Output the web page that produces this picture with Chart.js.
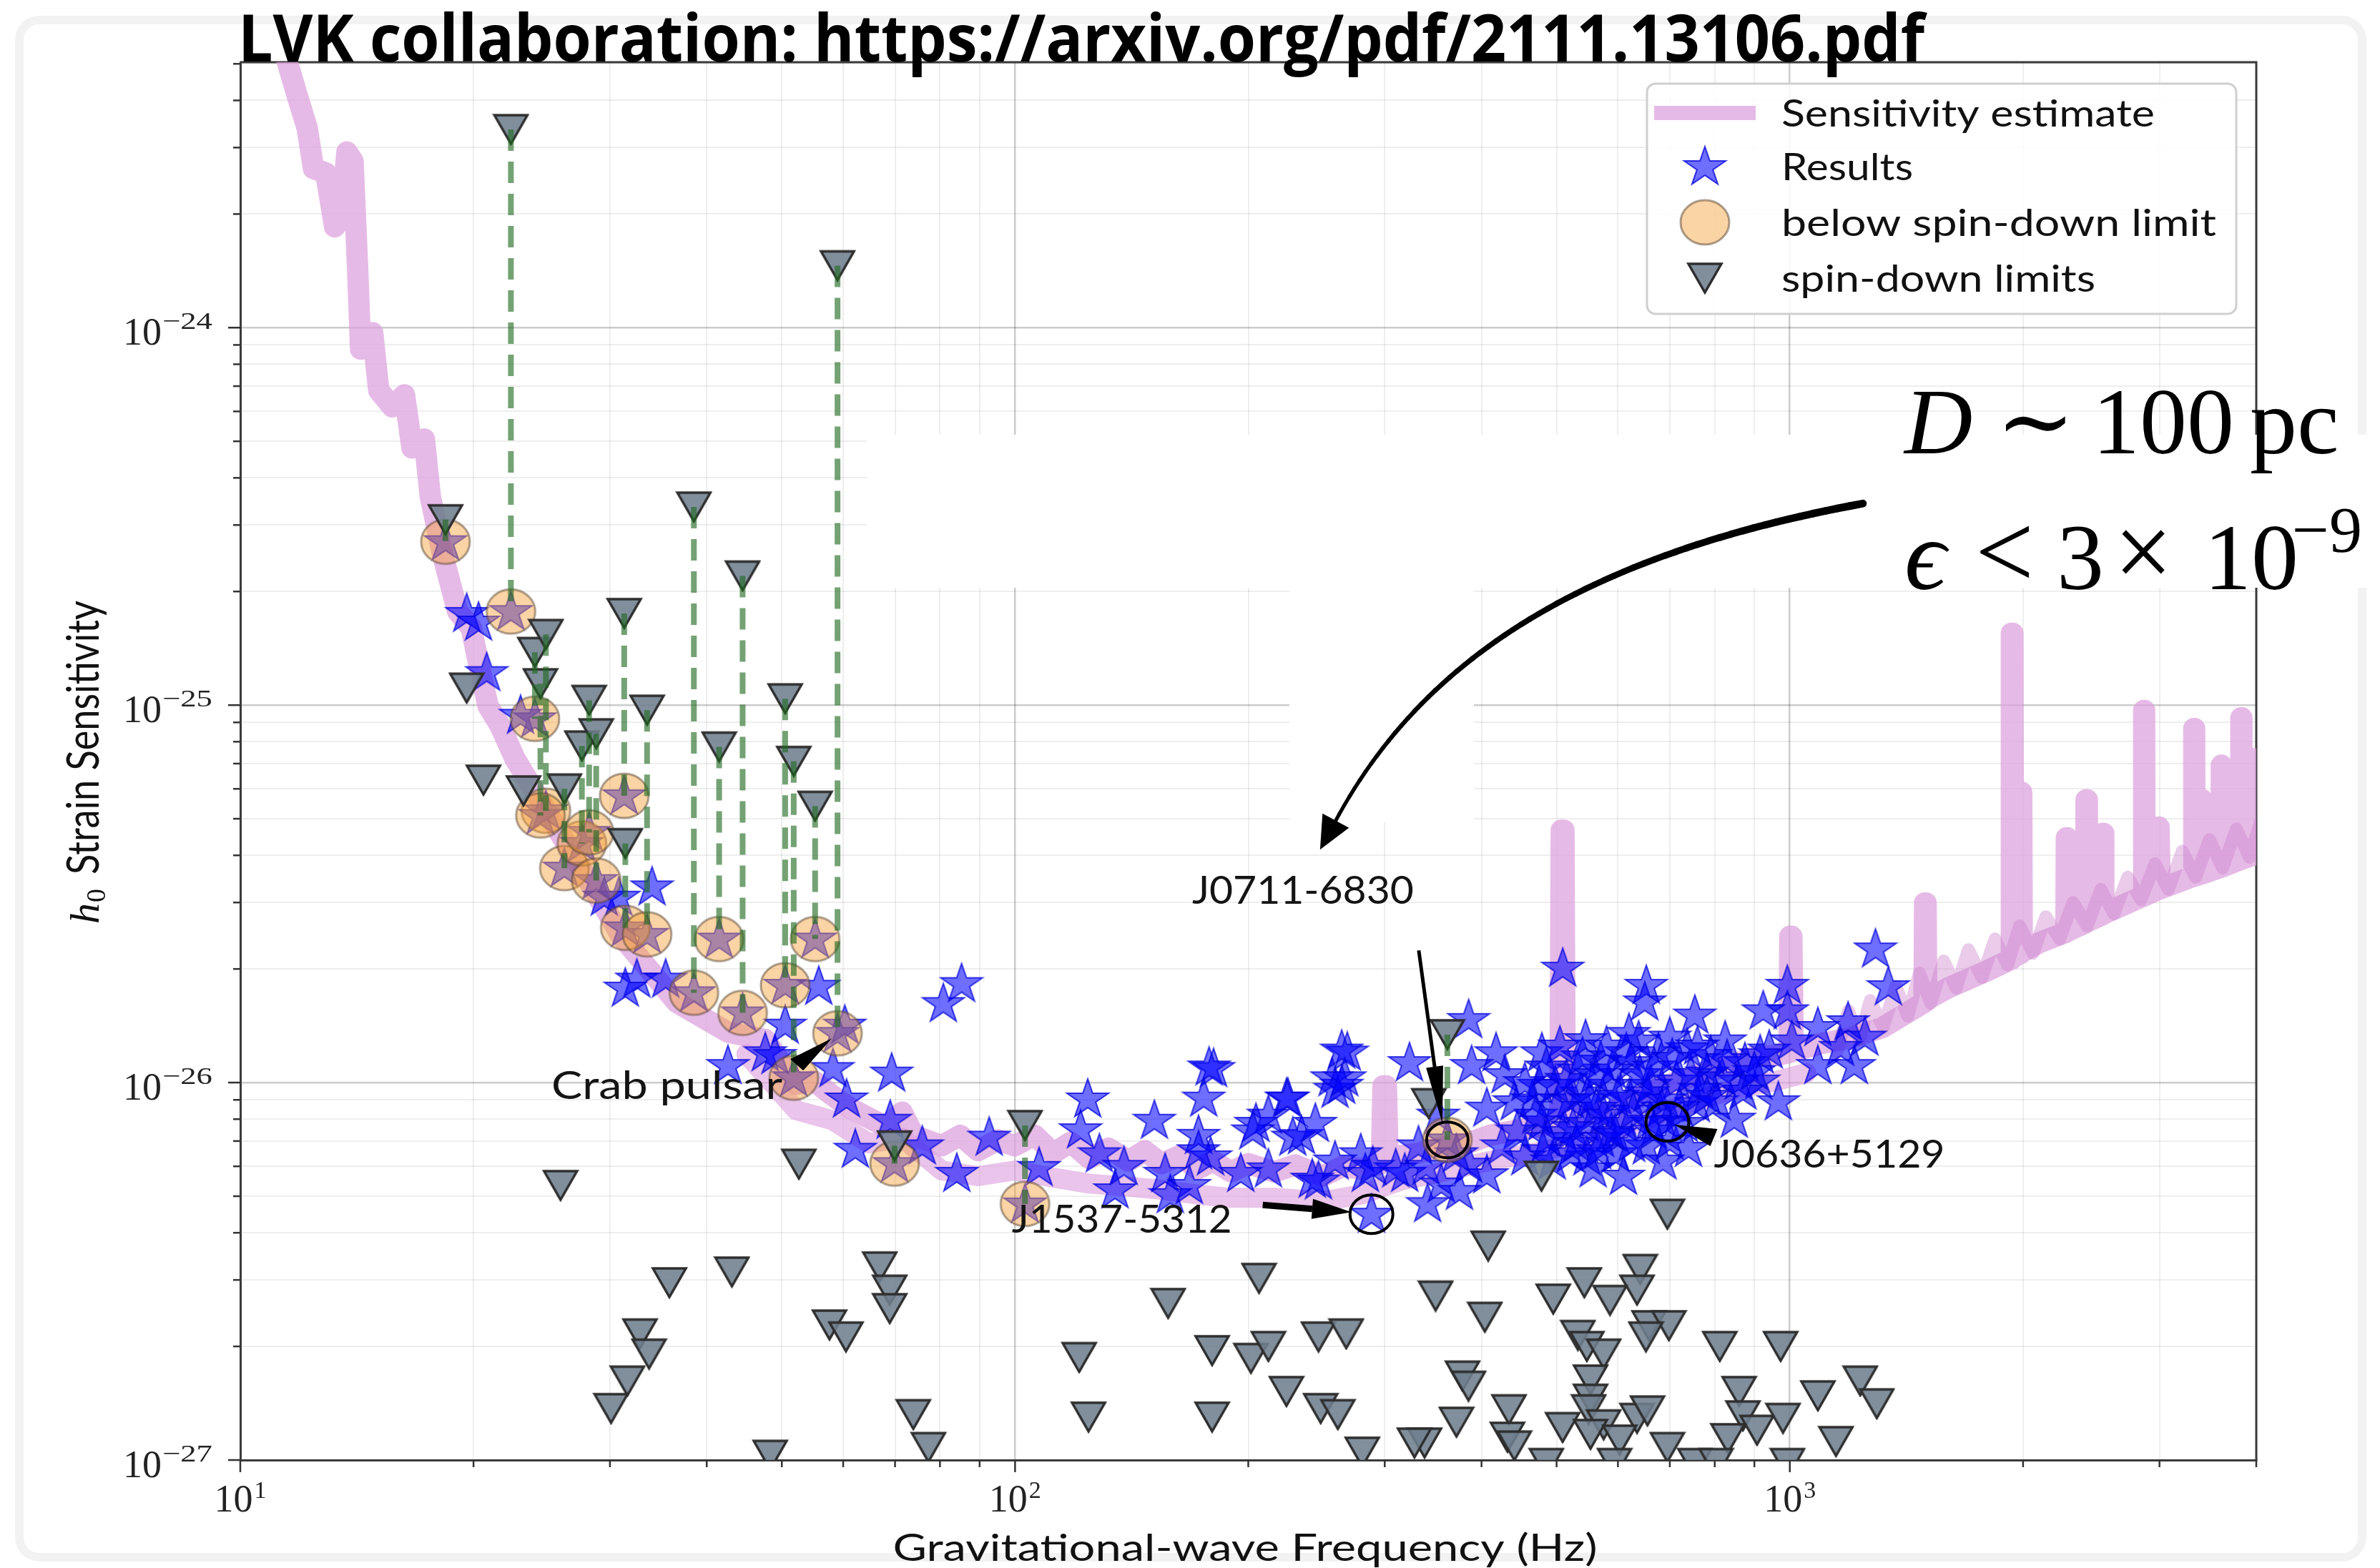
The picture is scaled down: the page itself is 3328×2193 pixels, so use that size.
<!DOCTYPE html>
<html>
<head>
<meta charset="utf-8">
<script src="https://cdn.jsdelivr.net/npm/chart.js@4.4.1/dist/chart.umd.min.js"></script>
<style>
  html, body { margin: 0; padding: 0; background: #fff; overflow: hidden; }
  canvas { display: block; }
</style>
</head>
<body>
<canvas id="chart" width="3328" height="2193"></canvas>
<script>
// ---- data (frequency in Hz, strain amplitude h0) ----

// sensitivity estimate, upper trace
const sensitivityCurve = [
  [11.2,6.0e-24],[11.5,5.06e-24],[11.83,4.15e-24],[12.2,3.38e-24],[12.43,2.64e-24],[12.89,2.57e-24],
  [13.24,1.85e-24],[13.5,1.95e-24],[13.73,2.92e-24],[13.98,2.76e-24],[14.17,1.45e-24],[14.3,8.77e-25],
  [14.82,9.7e-25],[15.09,6.82e-25],[15.71,6.17e-25],[16.29,6.64e-25],[16.66,4.8e-25],[17.28,5.07e-25],
  [17.59,3.57e-25],[18.24,2.51e-25],[19.08,1.77e-25],[19.87,1.6e-25],[20.32,1.28e-25],[20.88,9.96e-26],
  [21.64,8.83e-26],[22.64,7.19e-26],[24.23,5.71e-26],[25.93,4.53e-26],[27.74,3.6e-26],[29.69,2.85e-26],
  [31.0,2.45e-26],[33.0,2.1e-26],[36.6,1.63e-26],[42.6,1.36e-26],[47.6,1.3e-26],[52.2,9.9e-27],
  [55,1.01e-26],[58.1,9.25e-27],[61,8.6e-27],[64.8,8.05e-27],[68,7.65e-27],[71.5,8.35e-27],
  [74,7.25e-27],[80.4,6.8e-27],[85,7.25e-27],[89.6,6.6e-27],[95,7.05e-27],[99.9,6.8e-27],
  [106,7.25e-27],[112,6.5e-27],[118,6.95e-27],[124.6,6.3e-27],[132,6.7e-27],[140,6.2e-27],
  [147,6.6e-27],[154.6,6.1e-27],[163,6.4e-27],[172,5.9e-27],[180,6.2e-27],[190,5.8e-27],
  [200,6.1e-27],[216,5.8e-27],[230,6.05e-27],[249.5,5.65e-27],[265,6.0e-27],[280,5.9e-27],
  [297,6.1e-27],[298.5,9.8e-27],[301.5,9.8e-27],[303,6.2e-27],[315,6.4e-27],[331.6,6.5e-27],
  [350,6.7e-27],[383,6.9e-27],[410,7.25e-27],[440,7.45e-27],[475,7.65e-27],[505,7.85e-27],
  [507,4.66e-26],[511,4.66e-26],[513,8.0e-27],[545,8.2e-27],[585.5,8.35e-27],[630,9.0e-27],
  [676,9.65e-27],[720,1.01e-26],[781,1.07e-26],[840,1.11e-26],[898,1.17e-26],[960,1.18e-26],
  [998,1.2e-26],[1000,2.44e-26],[1006,2.44e-26],[1010,1.21e-26],[1100,1.27e-26],[1194,1.31e-26],
  [1318,1.4e-26],[1490,1.63e-26],[1493,2.99e-26],[1499,2.99e-26],[1502,1.66e-26],[1600,1.78e-26],
  [1800,1.98e-26],[1930,2.12e-26],[1932,1.55e-25],[1940,1.55e-25],[1945,2.15e-26],[1985,2.2e-26],
  [1987,5.87e-26],[1992,5.87e-26],[1995,2.22e-26],[2100,2.35e-26],[2272,2.5e-26],[2275,4.45e-26],
  [2281,4.45e-26],[2284,2.52e-26],[2410,2.65e-26],[2412,5.61e-26],[2418,5.61e-26],[2421,2.67e-26],
  [2530,2.78e-26],[2533,4.57e-26],[2539,4.57e-26],[2542,2.8e-26],[2700,2.96e-26],[2860,3.12e-26],
  [2863,9.68e-26],[2870,9.68e-26],[2873,3.13e-26],[2993,3.25e-26],[2996,4.75e-26],[3002,4.75e-26],
  [3005,3.26e-26],[3320,3.52e-26],[3323,8.67e-26],[3330,8.67e-26],[3333,3.53e-26],[3400,3.57e-26],
  [3403,5.61e-26],[3408,5.61e-26],[3411,3.58e-26],[3604,3.72e-26],[3606,6.93e-26],[3612,6.93e-26],
  [3615,3.73e-26],[3820,3.9e-26],[3822,9.25e-26],[3829,9.25e-26],[3832,3.91e-26],[3962,4.0e-26],
  [3964,7.2e-26],[3970,7.2e-26],[3973,4.01e-26],[4050,4.08e-26]
];

// sensitivity estimate, lower trace across the bucket
const sensitivityLower = [
  [45,1.19e-26],[52.2,8.45e-27],[58.1,7.95e-27],[64.8,6.9e-27],[71.5,7.15e-27],[80.4,5.85e-27],
  [89.6,5.65e-27],[99.9,5.85e-27],[112,5.6e-27],[124.6,5.4e-27],[140,5.3e-27],[154.6,5.2e-27],
  [172,5.05e-27],[190,4.95e-27],[216,4.95e-27],[249.5,4.85e-27],[280,5.05e-27],[315,5.5e-27],
  [350,5.75e-27],[410,6.2e-27],[475,6.55e-27],[545,7.0e-27],[630,7.75e-27],[720,8.65e-27],
  [840,9.55e-27],[960,1.01e-26],[1050,1.06e-26]
];

// harmonic comb above 1 kHz
const sensitivityComb = [
  [1150,1.2e-26],[1190,1.55e-26],[1230,1.3e-26],[1270,1.65e-26],[1320,1.4e-26],[1370,1.8e-26],
  [1420,1.5e-26],[1470,1.95e-26],[1520,1.62e-26],[1580,2.1e-26],[1640,1.78e-26],[1700,2.25e-26],
  [1770,1.9e-26],[1840,2.4e-26],[1910,2.05e-26],[1980,2.6e-26],[2060,2.2e-26],[2140,2.75e-26],
  [2230,2.4e-26],[2320,3.0e-26],[2420,2.6e-26],[2520,3.25e-26],[2620,2.8e-26],[2730,3.5e-26],
  [2840,3.05e-26],[2960,3.8e-26],[3080,3.25e-26],[3210,4.1e-26],[3340,3.5e-26],[3480,4.4e-26],
  [3620,3.7e-26],[3770,4.7e-26],[3920,3.95e-26],[4050,4.9e-26]
];

// pulsars whose upper limit lies below the spin-down limit
const belowFreq  = [18.4, 22.35, 24.0, 24.8, 24.4, 26.2, 27.6, 28.2, 28.8, 31.3, 31.4, 33.5,
                    38.5, 41.5, 44.5, 50.5, 51.8, 55.2, 59.0, 69.9, 103.0, 361.4];
const belowH0    = [2.71e-25, 1.77e-25, 9.2e-26, 5.25e-26, 5.1e-26, 3.7e-26, 4.3e-26, 4.6e-26,
                    3.43e-26, 5.75e-26, 2.57e-26, 2.47e-26, 1.73e-26, 2.4e-26, 1.53e-26, 1.81e-26,
                    1.03e-26, 2.4e-26, 1.35e-26, 6.1e-27, 4.77e-27, 7.05e-27];
const belowLimit = [3.1e-25, 3.35e-24, 1.38e-25, 1.54e-25, 1.14e-25, 6.0e-26, 7.8e-26, 1.03e-25,
                    8.4e-26, 1.75e-25, 4.3e-26, 9.7e-26, 3.35e-25, 7.75e-26, 2.2e-25, 1.04e-25,
                    7.1e-26, 5.4e-26, 1.46e-24, 6.8e-27, 7.7e-27, 1.34e-26];

// remaining upper limits
const resultPoints = [
  [19.6,1.75e-25],[20.3,1.66e-25],[20.8,1.22e-25],[23.0,9.4e-26],
  [29.5,3.1e-26],[30.8,3.1e-26],[34.0,3.3e-26],[32.5,1.88e-26],[31.4,1.78e-26],[35.4,1.88e-26],
  [42.6,1.11e-26],[47.6,1.2e-26],[49.0,1.18e-26],[50.5,1.42e-26],[55.8,1.8e-26],[60.3,1.42e-26],
  [58.2,1.09e-26],[60.6,9.05e-27],[62.2,6.66e-27],[69.0,7.95e-27],[69.3,1.06e-26],[75.9,6.8e-27],
  [80.8,1.62e-26],[85.3,1.83e-26],[84.1,5.75e-27],[92.6,7.17e-27],[107.4,5.96e-27],[124.1,9.05e-27],
  [121.5,7.5e-27],[128.5,6.48e-27],[151.3,7.95e-27],[134.6,5.2e-27],[156.2,5.75e-27],[158.6,5.05e-27],
  [138.2,6.0e-27],[180.4,1.09e-26],[175.2,9.1e-27],[172.5,7.25e-27],[178.8,6.36e-27],[167.9,5.34e-27],
  [204.6,7.8e-27],[212.3,8.2e-27],[224.1,9.1e-27],[228.3,7.17e-27],[234.3,7.24e-27],[212.3,5.91e-27],
  [195.6,5.75e-27],[268.4,1.205e-26],[264.0,9.84e-27],[256.5,1.03e-26],[246.4,5.49e-27],[283.2,5.75e-27],
  [322.9,1.13e-26],[318.4,5.75e-27],[340.8,4.78e-27],[288.4,4.48e-27],
  [385,1.47e-26],[417.7,1.2e-26],[478.6,1.2e-26],[509.2,2.01e-26],[428.9,1.05e-26],[388.4,1.11e-26],
  [406.4,8.56e-27],[440.8,8.9e-27],[474.4,9.84e-27],[478.6,7.87e-27],[509.2,7.38e-27],[537.5,9.39e-27],
  [570,1.14e-26],[562.4,8.56e-27],[588.3,7.38e-27],[547.3,6.36e-27],[454.9,6.36e-27],[406.4,5.7e-27],
  [385,6.08e-27],[493.5,6.2e-27],[621.1,9.1e-27],[652.7,1.81e-26],[649.8,1.636e-26],[652.7,6.8e-27],
  [686,6.2e-27],[638.1,1.29e-26],[676.6,1.2e-26],[754,1.51e-26],[737.3,1.23e-26],[781.8,1.06e-26],
  [825.1,1.29e-26],[858.3,1.01e-26],[847.8,8.0e-27],[757.3,8.8e-27],[923.9,1.55e-26],[911.5,1.01e-26],
  [966.5,8.9e-27],[992.6,1.81e-26],[992.6,1.55e-26],[1087,1.4e-26],[1087,1.11e-26],[1189,1.45e-26],
  [1211,1.11e-26],[1250,1.32e-26],[1290,2.26e-26],[1340,1.795e-26],[940.6,1.22e-26],[1006,1.29e-26],
  [1163,1.24e-26],[695,7.87e-27],
  [520.9,9.0e-27],[544.9,7.8e-27],[570,7.11e-27],[596.4,6.48e-27],[609.9,7.8e-27],[583,9.84e-27],
  [532.7,1.08e-26],[498,9.84e-27],[465.3,9.0e-27],[444.7,7.45e-27],[425.1,6.8e-27],[623.9,1.13e-26],
  [661.5,9.84e-27],[683,8.56e-27],[714.3,1.01e-26],[557.3,5.91e-27],[520.9,6.48e-27],[486.7,7.11e-27],
  [609.9,5.65e-27],[730.6,7.8e-27],[781.8,9.2e-27],[817.5,1.03e-26],[875.1,1.13e-26],[915.5,1.185e-26],
  [667.5,7.45e-27],[354.9,5.39e-27],[371.3,6.48e-27],[331.7,6.8e-27],[310,5.91e-27],[351.7,8.2e-27],
  [374.6,5.15e-27],[172.5,6.6e-27],[178,1.1e-26],[202.7,7.45e-27],[225,9.1e-27],[244.1,7.8e-27],
  [258.8,9.6e-27],[264,1.22e-26],[266.4,1.03e-26],[279.4,6.48e-27],[339.3,6.0e-27],[241.9,5.55e-27],
  [289.6,6.0e-27],[258.8,6.2e-27],
  [455,1.0e-26],[470,8.2e-27],[485,1.1e-26],[500,8.6e-27],[515,1.02e-26],[525,7.6e-27],
  [540,1.17e-26],[552,9.0e-27],[560,1.05e-26],[575,8.2e-27],[590,1.08e-26],[600,9.2e-27],
  [615,1.2e-26],[628,8.4e-27],[640,1.05e-26],[655,9.4e-27],[668,1.1e-26],[690,9.0e-27],
  [705,1.16e-26],[720,8.6e-27],[745,1.05e-26],[765,9.6e-27],[790,1.18e-26],[805,8.9e-27],
  [530,6.9e-27],[565,6.6e-27],[595,7.3e-27],[625,6.9e-27],[660,7.9e-27],[700,7.0e-27],
  [740,6.7e-27],[480,6.6e-27],[505,1.25e-26],[545,1.3e-26],[580,1.25e-26],[620,1.35e-26],
  [700,1.32e-26],[760,1.25e-26],[830,1.15e-26],[870,9.5e-27],[900,1.07e-26]
];

// remaining spin-down limits
const limitPoints = [
  [19.6,1.11e-25],[20.6,6.33e-26],[23.2,5.93e-26],[25.9,5.34e-27],[52.6,6.08e-27],[342,8.8e-27],
  [478,5.65e-27],[695,4.48e-27],[408,3.69e-27],[43.1,3.15e-27],[35.8,2.95e-27],[66.9,3.25e-27],
  [68.9,2.82e-27],[68.9,2.52e-27],[206.5,3.03e-27],[641,3.2e-27],[635,2.82e-27],[543,2.95e-27],
  [349,2.72e-27],[495,2.67e-27],[586,2.65e-27],[157.6,2.6e-27],[404,2.39e-27],[32.8,2.16e-27],
  [33.7,1.91e-27],[31.6,1.62e-27],[30.1,1.37e-27],[57.6,2.28e-27],[60.5,2.12e-27],[121,1.87e-27],
  [179.6,1.95e-27],[201.6,1.86e-27],[212.3,2.0e-27],[246.4,2.12e-27],[267.6,2.16e-27],[532.7,2.14e-27],
  [547,2.0e-27],[575,1.91e-27],[658,2.27e-27],[698,2.27e-27],[652,2.12e-27],[812,2.0e-27],
  [973,2.0e-27],[378,1.67e-27],[384.8,1.57e-27],[553,1.63e-27],[553,1.45e-27],[860,1.52e-27],
  [1233,1.62e-27],[1087,1.48e-27],[1295,1.41e-27],[224,1.52e-27],[248,1.37e-27],[261,1.32e-27],
  [73.9,1.32e-27],[124.4,1.3e-27],[179.6,1.3e-27],[371.3,1.26e-27],[434,1.36e-27],[432,1.15e-27],
  [441,1.09e-27],[509,1.22e-27],[550,1.36e-27],[575,1.24e-27],[635,1.29e-27],[655,1.35e-27],
  [553,1.17e-27],[603,1.13e-27],[870,1.31e-27],[832,1.14e-27],[907,1.2e-27],[980,1.29e-27],
  [1147,1.12e-27],[695,1.08e-27],[77.3,1.08e-27],[337.7,1.11e-27],[327.7,1.11e-27],[280.6,1.05e-27],
  [48.3,1.03e-27],[754,0.98e-27],[803,0.98e-27],[485,0.98e-27],[993,0.98e-27],[594,0.98e-27]
];

// named pulsars
const labelNames = ['Crab pulsar', 'J1537-5312', 'J0711-6830', 'J0636+5129'];
const labelFreq  = [59.0, 288.4, 361.4, 695];
const labelH0    = [1.35e-26, 4.48e-27, 7.05e-27, 7.87e-27];

// axes
const xMajorTicks = [10, 100, 1000];
const xTickExps   = ['1', '2', '3'];
const yMajorTicks = [1e-27, 1e-26, 1e-25, 1e-24];
const yTickExps   = ['\u221227', '\u221226', '\u221225', '\u221224'];
const xTitle = 'Gravitational-wave Frequency (Hz)';
const yTitle = 'Strain Sensitivity';
const pageTitle = 'LVK collaboration: https://arxiv.org/pdf/2111.13106.pdf';
const legendLabels = ['Sensitivity estimate', 'Results', 'below spin-down limit', 'spin-down limits'];

// ---- styles ----
const SENS_COLOR = 'rgba(221,160,221,0.73)';
const LOWER_COLOR = 'rgba(221,160,221,0.62)';
const COMB_COLOR = 'rgba(205,130,205,0.42)';
const LINK_COLOR = 'rgba(30,105,30,0.62)';
const SANS = 'Lato, "DejaVu Sans", sans-serif';
const SERIF = '"Liberation Serif", "DejaVu Serif", serif';

function markerCanvas(w, h, draw) {
  const c = document.createElement('canvas');
  c.width = w; c.height = h;
  draw(c.getContext('2d'), w, h);
  return c;
}

const starImg = markerCanvas(64, 62, (g, w) => {
  const R = 29, r = R * 0.382, cx = w / 2, cy = 32;
  g.beginPath();
  for (let i = 0; i < 10; i++) {
    const a = -Math.PI / 2 + i * Math.PI / 5;
    const rr = i % 2 ? r : R;
    const x = cx + Math.cos(a) * rr * 1.06, y = cy + Math.sin(a) * rr;
    if (i) g.lineTo(x, y); else g.moveTo(x, y);
  }
  g.closePath();
  g.fillStyle = 'rgba(0,0,255,0.57)';
  g.fill();
  g.lineWidth = 2;
  g.strokeStyle = 'rgba(0,0,220,0.75)';
  g.stroke();
});

const circleImg = markerCanvas(74, 68, (g, w, h) => {
  g.beginPath();
  g.ellipse(w / 2, h / 2, 34, 31, 0, 0, Math.PI * 2);
  g.fillStyle = 'rgba(245,160,55,0.45)';
  g.fill();
  g.lineWidth = 3;
  g.strokeStyle = 'rgba(90,70,50,0.5)';
  g.stroke();
});

const triImg = markerCanvas(52, 46, (g) => {
  g.beginPath();
  g.moveTo(3, 3); g.lineTo(49, 3); g.lineTo(26, 43); g.closePath();
  g.fillStyle = 'rgba(112,128,144,0.88)';
  g.fill();
  g.lineWidth = 3.5;
  g.lineJoin = 'miter';
  g.strokeStyle = '#2e2e2e';
  g.stroke();
});

// ---- helpers ----
function fitText(ctx, text, x, y, width, align) {
  const w = ctx.measureText(text).width;
  ctx.save();
  ctx.translate(x, y);
  ctx.scale(width / w, 1);
  ctx.textAlign = 'left';
  ctx.fillText(text, align === 'right' ? -w : align === 'center' ? -w / 2 : 0, 0);
  ctx.restore();
}

function roundRectPath(ctx, x, y, w, h, r) {
  ctx.beginPath();
  ctx.moveTo(x + r, y);
  ctx.arcTo(x + w, y, x + w, y + h, r);
  ctx.arcTo(x + w, y + h, x, y + h, r);
  ctx.arcTo(x, y + h, x, y, r);
  ctx.arcTo(x, y, x + w, y, r);
  ctx.closePath();
}

function straightArrow(ctx, x0, y0, x1, y1, w, hl, hw) {
  const dx = x1 - x0, dy = y1 - y0, L = Math.hypot(dx, dy), ux = dx / L, uy = dy / L;
  const bx = x1 - ux * hl, by = y1 - uy * hl;
  ctx.lineWidth = w;
  ctx.lineCap = 'butt';
  ctx.beginPath(); ctx.moveTo(x0, y0); ctx.lineTo(bx, by); ctx.stroke();
  ctx.beginPath();
  ctx.moveTo(x1, y1);
  ctx.lineTo(bx - uy * hw, by + ux * hw);
  ctx.lineTo(bx + uy * hw, by - ux * hw);
  ctx.closePath();
  ctx.fill();
}

function polygon(ctx, pts) {
  ctx.beginPath();
  pts.forEach((p, i) => (i ? ctx.lineTo(p[0], p[1]) : ctx.moveTo(p[0], p[1])));
  ctx.closePath();
  ctx.fill();
}

function logTicks(min, max, lo, hi) {
  const out = [];
  for (let n = lo; n <= hi; n++) {
    for (let k = 1; k <= 9; k++) {
      const v = Number(k + 'e' + n);
      if (v >= min * 0.999999 && v <= max * 1.000001) out.push({ value: v, major: k === 1 });
    }
  }
  return out;
}

// ---- overlay drawing (axes decoration, legend, annotations) ----
const overlay = {
  id: 'overlay',
  beforeDraw(chart) {
    const c = chart.ctx;
    c.save();
    c.fillStyle = '#fff';
    c.fillRect(0, 0, chart.width, chart.height);
    c.strokeStyle = 'rgba(0,0,0,0.05)';
    c.lineWidth = 12;
    roundRectPath(c, 27, 28, 3276, 2150, 28);
    c.stroke();
    c.restore();
  },
  beforeDatasetsDraw(chart) {
    const c = chart.ctx, a = chart.chartArea;
    c.save();
    c.strokeStyle = '#3a3a3a';
    c.lineWidth = 3;
    c.beginPath();
    c.moveTo(a.left, a.top); c.lineTo(a.right, a.top); c.lineTo(a.right, a.bottom);
    c.stroke();
    // white text panels laid over the plot
    c.fillStyle = '#fff';
    c.fillRect(1212, 608, chart.width - 1212, 214);
    c.fillRect(1803, 820, 258, 330);
    c.restore();
  },
  afterDatasetsDraw(chart) {
    const c = chart.ctx, xs = chart.scales.x, ys = chart.scales.y;
    const P = labelFreq.map((f, i) => [xs.getPixelForValue(f), ys.getPixelForValue(labelH0[i])]);
    c.save();
    c.fillStyle = '#000';
    c.strokeStyle = '#000';

    // rings around highlighted pulsars
    c.lineWidth = 4;
    [[1, 30, 27], [2, 29, 25], [3, 30, 27]].forEach(([i, rx, ry]) => {
      c.beginPath();
      c.ellipse(P[i][0], P[i][1], rx, ry, 0, 0, Math.PI * 2);
      c.stroke();
    });

    // Crab pulsar
    let [x, y] = P[0];
    polygon(c, [[x - 8, y + 7], [x - 66, y + 36], [x - 48, y + 52]]);
    // J1537-5312
    [x, y] = P[1];
    straightArrow(c, x - 152, y - 13, x - 28, y - 3, 9, 55, 14);
    // J0711-6830
    [x, y] = P[2];
    straightArrow(c, x - 40, y - 265, x - 7, y - 23, 5, 80, 12);
    // curved arrow from the side note
    const p0 = [x + 581, y - 890], p1 = [x + 225, y - 824], p2 = [x - 25, y - 694], p3 = [x - 158, y - 443];
    const tip = [x - 178, y - 406];
    const bez = (t) => {
      const u = 1 - t;
      return [u*u*u*p0[0] + 3*u*u*t*p1[0] + 3*u*t*t*p2[0] + t*t*t*p3[0],
              u*u*u*p0[1] + 3*u*u*t*p1[1] + 3*u*t*t*p2[1] + t*t*t*p3[1]];
    };
    c.lineCap = 'round';
    const N = 60;
    let prev = bez(0);
    for (let i = 1; i <= N; i++) {
      const cur = bez(i / N);
      c.lineWidth = 11 - 6 * (i / N);
      c.beginPath(); c.moveTo(prev[0], prev[1]); c.lineTo(cur[0], cur[1]); c.stroke();
      prev = cur;
    }
    {
      const dx = tip[0] - p3[0], dy = tip[1] - p3[1], L = Math.hypot(dx, dy);
      const nx = -dy / L * 21, ny = dx / L * 21;
      const bx = p3[0] - dx / L * 4, by = p3[1] - dy / L * 4;
      polygon(c, [tip, [bx + nx, by + ny], [bx - nx, by - ny]]);
    }
    // J0636+5129
    [x, y] = P[3];
    polygon(c, [[x + 10, y + 4], [x + 70, y + 10], [x + 60, y + 34]]);

    // pulsar names
    c.fillStyle = '#141414';
    c.textBaseline = 'alphabetic';
    c.font = '54px ' + SANS;
    fitText(c, labelNames[0], P[0][0] - 77, P[0][1] + 92, 323, 'right');
    fitText(c, labelNames[1], P[1][0] - 195, P[1][1] + 26, 308, 'right');
    fitText(c, labelNames[2], P[2][0] - 202, P[2][1] - 330, 310, 'center');
    fitText(c, labelNames[3], P[3][0] + 65, P[3][1] + 64, 323, 'left');
    c.restore();
  },
  afterDraw(chart) {
    const c = chart.ctx, a = chart.chartArea, xs = chart.scales.x, ys = chart.scales.y;
    c.save();

    // tick marks
    c.strokeStyle = '#333';
    c.lineWidth = 2.5;
    xs.ticks.forEach(t => {
      const px = xs.getPixelForValue(t.value);
      c.beginPath(); c.moveTo(px, a.bottom); c.lineTo(px, a.bottom + (t.major ? 17 : 10)); c.stroke();
    });
    ys.ticks.forEach(t => {
      const py = ys.getPixelForValue(t.value);
      c.beginPath(); c.moveTo(a.left, py); c.lineTo(a.left - (t.major ? 17 : 10), py); c.stroke();
    });

    // tick labels 10^n
    c.fillStyle = '#222';
    c.textBaseline = 'alphabetic';
    xMajorTicks.forEach((v, i) => {
      const px = xs.getPixelForValue(v);
      c.font = '54px ' + SERIF;
      const wb = c.measureText('10').width;
      c.font = '34px ' + SERIF;
      const we = c.measureText(xTickExps[i]).width;
      const x0 = px - (wb + we + 2) / 2;
      c.font = '54px ' + SERIF;
      c.textAlign = 'left';
      c.fillText('10', x0, a.bottom + 72);
      c.font = '34px ' + SERIF;
      c.fillText(xTickExps[i], x0 + wb + 2, a.bottom + 53);
    });
    yMajorTicks.forEach((v, i) => {
      const py = ys.getPixelForValue(v);
      c.font = '34px ' + SERIF;
      fitText(c, yTickExps[i], a.left - 39, py + 2, 70, 'right');
      c.font = '54px ' + SERIF;
      c.textAlign = 'right';
      c.fillText('10', a.left - 110, py + 24);
    });

    // axis titles
    c.fillStyle = '#111';
    c.font = '53px ' + SANS;
    fitText(c, xTitle, 1741, 2183, 985, 'center');

    c.save();
    c.translate(138, 1292);
    c.rotate(-Math.PI / 2);
    c.font = 'italic 58px ' + SERIF;
    c.textAlign = 'left';
    c.fillText('h', 0, 0);
    const wh = c.measureText('h').width;
    c.font = '38px ' + SERIF;
    c.fillText('0', wh + 1, 9);
    c.font = '62px ' + SANS;
    fitText(c, yTitle, 69, 0, 383, 'left');
    c.restore();

    // legend
    c.save();
    roundRectPath(c, 2303, 117, 824, 322, 12);
    c.fillStyle = 'rgba(255,255,255,0.85)';
    c.fill();
    c.strokeStyle = '#cfcfcf';
    c.lineWidth = 3;
    c.stroke();
    const rows = [158, 233, 311, 389];
    const widths = [522, 184, 608, 439];
    c.strokeStyle = SENS_COLOR;
    c.lineWidth = 20;
    c.lineCap = 'butt';
    c.beginPath(); c.moveTo(2313, rows[0]); c.lineTo(2455, rows[0]); c.stroke();
    [starImg, circleImg, triImg].forEach((img, k) => {
      c.drawImage(img, 2384 - img.width / 2, rows[k + 1] - img.height / 2);
    });
    c.fillStyle = '#111';
    c.font = '52px ' + SANS;
    legendLabels.forEach((t, k) => fitText(c, t, 2491, rows[k] + 19, widths[k], 'left'));
    c.restore();

    // page title
    c.fillStyle = '#000';
    c.font = 'bold 92px "Open Sans", "Noto Sans", sans-serif';
    fitText(c, pageTitle, 333, 86, 2358, 'left');

    // side note
    c.fillStyle = '#000';
    c.textAlign = 'left';
    c.font = 'italic 132px ' + SERIF;
    c.fillText('D', 2663, 634);
    c.font = '132px ' + SERIF;
    c.fillText('\u223C', 2791, 634);
    c.fillText('100', 2926, 634);
    c.fillText('pc', 3146, 634);
    c.font = 'italic 140px ' + SERIF;
    fitText(c, '\u03F5', 2663, 824, 58, 'left');
    c.font = '150px ' + SERIF;
    fitText(c, '<', 2762, 822, 82, 'left');
    c.font = '132px ' + SERIF;
    c.fillText('3', 2876, 824);
    c.font = '150px ' + SERIF;
    fitText(c, '\u00D7', 2956, 822, 82, 'left');
    c.font = '132px ' + SERIF;
    c.fillText('10', 3082, 824);
    c.font = '92px ' + SERIF;
    c.fillText('\u22129', 3205, 772);

    c.restore();
  }
};

// ---- datasets ----
const toXY = (arr) => arr.map(p => ({ x: p[0], y: p[1] }));
const starData = belowFreq.map((f, i) => ({ x: f, y: belowH0[i] })).concat(toXY(resultPoints));
const circleData = belowFreq.map((f, i) => ({ x: f, y: belowH0[i] }));
const triData = belowFreq.map((f, i) => ({ x: f, y: belowLimit[i] })).concat(toXY(limitPoints));
const linkData = [];
belowFreq.forEach((f, i) => {
  linkData.push({ x: f, y: belowLimit[i] }, { x: f, y: belowH0[i] }, { x: f, y: null });
});

const markerCommon = { showLine: false, pointBorderWidth: 0, pointHitRadius: 0, clip: 0 };
const traceCommon = { showLine: true, borderJoinStyle: 'round', borderCapStyle: 'round', pointRadius: 0, clip: 0 };

new Chart(document.getElementById('chart'), {
  type: 'scatter',
  data: {
    datasets: [
      Object.assign({ label: legendLabels[0], data: toXY(sensitivityCurve), borderColor: SENS_COLOR, borderWidth: 30, order: 7 }, traceCommon),
      Object.assign({ label: 'lower', data: toXY(sensitivityLower), borderColor: LOWER_COLOR, borderWidth: 28, order: 6 }, traceCommon),
      Object.assign({ label: 'comb', data: toXY(sensitivityComb), borderColor: COMB_COLOR, borderWidth: 18, order: 5 }, traceCommon),
      Object.assign({ label: legendLabels[1], data: starData, pointStyle: starImg, pointRadius: 28, pointHoverRadius: 28, order: 4 }, markerCommon),
      Object.assign({ label: legendLabels[2], data: circleData, pointStyle: circleImg, pointRadius: 32, pointHoverRadius: 32, order: 3 }, markerCommon),
      Object.assign({ label: legendLabels[3], data: triData, pointStyle: triImg, pointRadius: 24, pointHoverRadius: 24, order: 2 }, markerCommon),
      { label: 'links', data: linkData, showLine: true, spanGaps: false, borderColor: LINK_COLOR, borderWidth: 8,
        borderDash: [30, 15], pointRadius: 0, clip: 0, order: 1 }
    ]
  },
  options: {
    responsive: false,
    devicePixelRatio: 1,
    animation: false,
    events: [],
    layout: { padding: { left: 0, top: 87, right: 173, bottom: 0 } },
    plugins: { legend: { display: false }, tooltip: { enabled: false }, title: { display: false } },
    scales: {
      x: {
        type: 'logarithmic', position: 'bottom', min: 10, max: 4000,
        afterBuildTicks: s => { s.ticks = logTicks(10, 4000, 1, 3); },
        afterFit: s => { s.height = 151; },
        ticks: { display: false },
        grid: {
          drawTicks: false,
          color: ctx => (ctx.tick && ctx.tick.major ? 'rgba(0,0,0,0.2)' : 'rgba(0,0,0,0.065)'),
          lineWidth: ctx => (ctx.tick && ctx.tick.major ? 2.5 : 2)
        },
        border: { display: true, color: '#3a3a3a', width: 3 }
      },
      y: {
        type: 'logarithmic', position: 'left', min: 1e-27, max: 5.05e-24,
        afterBuildTicks: s => { s.ticks = logTicks(1e-27, 5.05e-24, -27, -24); },
        afterFit: s => { s.width = 336; },
        ticks: { display: false },
        grid: {
          drawTicks: false,
          color: ctx => (ctx.tick && ctx.tick.major ? 'rgba(0,0,0,0.2)' : 'rgba(0,0,0,0.065)'),
          lineWidth: ctx => (ctx.tick && ctx.tick.major ? 2.5 : 2)
        },
        border: { display: true, color: '#3a3a3a', width: 3 }
      }
    }
  },
  plugins: [overlay]
});
</script>
</body>
</html>
